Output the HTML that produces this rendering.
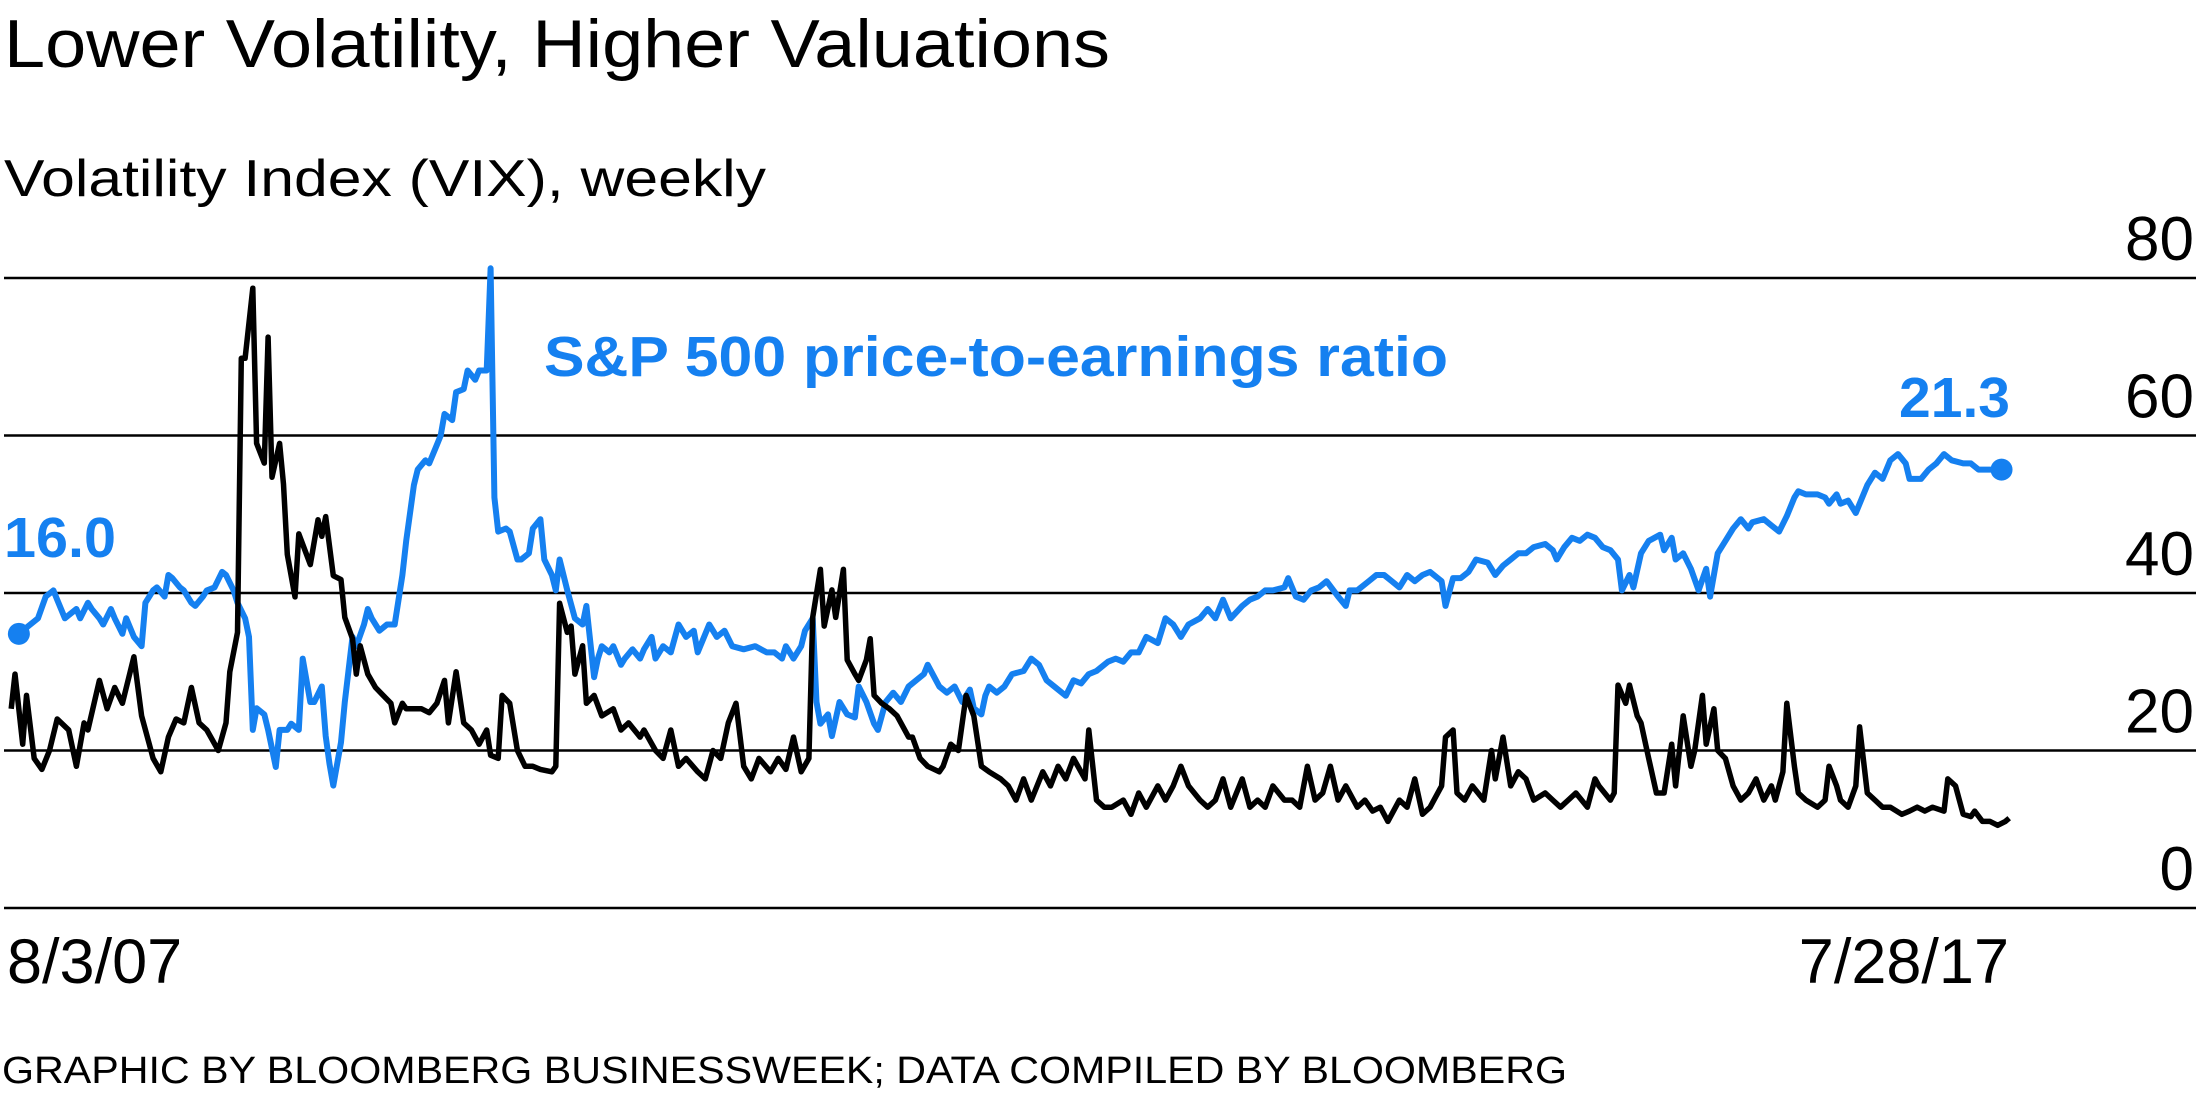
<!DOCTYPE html>
<html><head><meta charset="utf-8"><style>
html,body{margin:0;padding:0;background:#fff;}
svg{display:block;font-family:"Liberation Sans",sans-serif;}
</style></head><body>
<svg id="chart" width="2200" height="1100" viewBox="0 0 2200 1100">
<text x="4" y="67" font-size="68" fill="#000" textLength="1106" lengthAdjust="spacingAndGlyphs">Lower Volatility, Higher Valuations</text>
<text x="4" y="196" font-size="52" fill="#000" textLength="762" lengthAdjust="spacingAndGlyphs">Volatility Index (VIX), weekly</text>
<g id="grid"></g>
<g id="yticks"></g>
<g id="series"></g>
<text x="544" y="376" font-size="57" font-weight="bold" fill="#1580f0" textLength="904" lengthAdjust="spacingAndGlyphs">S&amp;P 500 price-to-earnings ratio</text>
<text x="4" y="557" font-size="57" font-weight="bold" fill="#1580f0" textLength="112" lengthAdjust="spacingAndGlyphs">16.0</text>
<text x="2010" y="417" font-size="57" font-weight="bold" fill="#1580f0" text-anchor="end">21.3</text>
<text x="7" y="983" font-size="63" fill="#000">8/3/07</text>
<text x="2009" y="983" font-size="63" fill="#000" text-anchor="end">7/28/17</text>
<text x="2" y="1083" font-size="38" fill="#000" textLength="1565" lengthAdjust="spacingAndGlyphs">GRAPHIC BY BLOOMBERG BUSINESSWEEK; DATA COMPILED BY BLOOMBERG</text>
</svg>
<script>
const yTicks = [0, 20, 40, 60, 80];
const yTickLabels = ["0", "20", "40", "60", "80"];
const vixWeeks = [0,1,3,4,6,8,10,12,15,17,19,20,23,25,27,29,32,34,36,37,39,41,43,45,47,49,51,54,56,57,59,60,61,63,64,66,67,68,70,71,72,74,75,77,78,80,81,82,84,86,87,89,90,91,93,95,97,99,100,102,103,105,107,109,111,113,114,116,118,120,122,124,125,127,128,130,132,134,136,138,141,142,143,145,146,147,149,150,152,154,157,159,161,164,165,168,170,172,174,176,179,181,183,185,187,189,191,193,195,198,200,202,204,206,208,209,211,212,214,215,217,218,220,221,223,224,225,227,229,231,234,235,237,239,242,243,245,247,249,251,253,255,258,260,262,264,266,269,271,273,275,277,280,281,283,285,287,290,292,294,296,299,301,303,305,307,310,312,314,316,318,321,323,325,327,329,332,334,336,338,340,342,344,346,348,351,353,355,357,359,362,364,366,368,370,373,374,376,377,379,381,384,386,387,389,391,393,395,397,400,402,404,406,408,411,413,414,417,418,419,421,422,424,425,427,429,431,433,434,436,438,439,441,442,444,445,447,449,451,453,455,457,459,460,462,463,465,466,468,471,473,474,476,477,479,481,482,484,486,488,490,493,495,497,499,501,504,505,507,509,511,512,514,516,518,520,521];
const vixValues = [25.3,29.7,20.8,27,19,17.6,20,24,22.6,18,23.5,22.6,28.9,25.3,28,26,31.9,24.4,20.8,19,17.3,21.7,24,23.5,28,23.5,22.6,20,23.5,30,35,69.8,69.8,78.7,59,56.5,72.5,54.7,59,53.8,44.9,39.5,47.5,44.9,43.6,49.3,47.2,49.7,42.2,41.7,36.9,34.2,29.7,33.3,29.7,28,27,26,23.5,26,25.3,25.3,25.3,24.8,26,28.9,23.5,30,23.5,22.6,20.8,22.6,19.4,19,27,26,20,18,18,17.6,17.3,18,38.7,35,35.8,29.7,33.3,26,27,24.4,25.3,22.6,23.5,21.7,22.6,20,19,22.6,18,19,17.3,16.4,20,19,23.5,26,18,16.4,19,17.3,19,17.6,21.7,17.3,19,36.9,43,35.8,40.4,36.9,43,31.5,29.7,28.9,31.5,34.2,27,26,25.3,24.4,21.7,21.7,19,18,17.3,18,20.8,20,27,24.4,18,17.3,16.4,15.5,13.7,16.4,13.7,17.3,15.5,18,16.4,19,16.4,22.6,13.7,12.8,12.8,13.7,11.9,14.6,12.8,15.5,13.7,15.5,18,15.5,13.7,12.8,13.7,16.4,12.8,16.4,12.8,13.7,12.8,15.5,13.7,13.7,12.8,18,13.7,14.6,18,13.7,15.5,12.8,13.7,12.3,12.8,11,13.7,12.8,16.4,11.9,12.8,15.5,21.7,22.6,14.6,13.7,15.5,13.7,20,16.4,21.7,15.5,17.3,16.4,13.7,14.6,13.7,12.8,13.7,14.6,12.8,16.4,15.5,13.7,14.6,28.3,26,28.3,24.4,23.5,19,14.6,14.6,20.8,15.5,24.4,18,20,27,20.8,25.3,20,19,15.5,13.7,14.6,16.4,13.7,15.5,13.7,17.3,26,18,14.6,13.7,12.8,13.7,18,15.5,13.7,12.8,15.5,23,14.6,13.7,12.8,12.8,11.9,12.3,12.8,12.3,12.8,12.3,16.4,15.5,11.9,11.6,12.3,11,11,10.5,11,11.4];
const peWeeks = [2,4,7,9,11,12,14,15,17,18,20,21,23,24,26,27,29,30,32,34,35,37,38,40,41,42,44,45,47,48,50,51,53,55,56,58,59,61,62,63,64,66,67,69,70,72,73,75,76,78,79,81,82,83,84,86,87,89,90,92,93,94,96,98,100,102,103,105,106,108,109,111,112,113,115,116,118,119,121,122,124,125,126,127,129,130,132,133,135,136,138,139,141,142,143,145,147,149,150,152,153,154,156,157,159,160,162,164,165,167,168,170,172,174,176,178,179,182,184,186,188,191,194,197,199,201,202,204,206,207,209,210,211,213,214,216,218,220,221,223,225,226,228,230,232,234,236,238,239,242,244,246,248,250,251,253,254,255,257,259,261,264,266,268,270,272,275,277,279,281,283,286,288,290,292,294,296,299,301,303,305,307,310,312,314,316,318,321,323,325,327,329,332,333,335,337,339,341,343,346,348,349,351,354,356,358,360,362,364,366,368,370,373,374,376,378,380,382,385,387,389,391,393,395,397,400,402,403,405,407,409,411,413,415,417,419,420,422,423,425,427,430,431,433,434,436,438,440,442,443,445,447,449,451,453,454,457,459,461,463,465,466,468,471,473,474,476,477,479,481,482,484,486,488,490,492,494,495,498,500,502,504,506,509,511,513,515,517,519];
const peValues = [16.0,16.2,16.5,17.2,17.4,17.1,16.5,16.6,16.8,16.5,17.0,16.8,16.5,16.3,16.8,16.5,16.0,16.5,15.9,15.6,17.0,17.4,17.5,17.2,17.9,17.8,17.5,17.4,17.0,16.9,17.2,17.4,17.5,18.0,17.9,17.4,17.0,16.5,15.9,12.9,13.6,13.4,12.9,11.7,12.9,12.9,13.1,12.9,15.2,13.8,13.8,14.3,12.7,11.8,11.1,12.5,13.8,15.9,15.6,16.3,16.8,16.5,16.1,16.3,16.3,17.9,19.0,20.8,21.3,21.6,21.5,22.1,22.4,23.1,22.9,23.8,23.9,24.5,24.2,24.5,24.5,27.8,20.4,19.3,19.4,19.3,18.4,18.4,18.6,19.4,19.7,18.4,17.9,17.4,18.4,17.4,16.5,16.3,16.9,14.6,15.2,15.6,15.4,15.6,15.0,15.2,15.5,15.2,15.5,15.9,15.2,15.6,15.4,16.3,15.9,16.1,15.4,16.3,15.9,16.1,15.6,15.5,15.6,15.4,15.4,15.2,15.6,15.2,15.6,16.1,16.5,13.8,13.1,13.4,12.7,13.8,13.4,13.3,14.3,13.8,13.1,12.9,13.8,14.1,13.8,14.3,14.5,14.7,15.0,14.3,14.1,14.3,13.8,14.2,13.6,13.4,14.0,14.3,14.1,14.3,14.7,14.8,15.2,15.0,14.5,14.3,14.0,14.5,14.4,14.7,14.8,15.1,15.2,15.1,15.4,15.4,15.9,15.7,16.5,16.3,15.9,16.3,16.5,16.8,16.5,17.1,16.5,16.9,17.1,17.2,17.4,17.4,17.5,17.8,17.2,17.1,17.4,17.5,17.7,17.2,16.9,17.4,17.4,17.7,17.9,17.9,17.7,17.5,17.9,17.7,17.9,18.0,17.7,16.9,17.8,17.8,18.0,18.4,18.3,17.9,18.2,18.4,18.6,18.6,18.8,18.9,18.7,18.4,18.8,19.1,19.0,19.2,19.1,18.8,18.7,18.4,17.4,17.9,17.5,18.6,19.0,19.2,18.7,19.1,18.4,18.6,18.1,17.4,18.1,17.2,18.6,19.0,19.4,19.7,19.4,19.6,19.7,19.5,19.3,19.8,20.4,20.6,20.5,20.5,20.4,20.2,20.5,20.2,20.3,19.9,20.2,20.8,21.2,21.0,21.6,21.8,21.5,21.0,21.0,21.3,21.5,21.8,21.6,21.5,21.5,21.3,21.3,21.3,21.3];

const NS = "http://www.w3.org/2000/svg";
const totalWeeks = 521;
function xScale(w){ return 11.2 + w * (1998 / totalWeeks); }
function yVix(v){ return 908 - v * (630 / 80); }
function yPe(p){ return 1129.5 - p * 30.98; }

const grid = document.getElementById('grid');
const yt = document.getElementById('yticks');
yTicks.forEach((t, i) => {
  const y = yVix(t);
  const ln = document.createElementNS(NS, 'line');
  ln.setAttribute('x1', 4); ln.setAttribute('x2', 2196);
  ln.setAttribute('y1', y); ln.setAttribute('y2', y);
  ln.setAttribute('stroke', '#000'); ln.setAttribute('stroke-width', '2.5');
  
  
  grid.appendChild(ln);
  const tx = document.createElementNS(NS, 'text');
  tx.setAttribute('x', 2194); tx.setAttribute('y', y - 18);
  tx.setAttribute('text-anchor', 'end'); tx.setAttribute('font-size', '62');
  tx.textContent = yTickLabels[i];
  
  
  yt.appendChild(tx);
});

const series = document.getElementById('series');
function pathFrom(ws, vs, yf){
  return ws.map((w, i) => (i ? 'L' : 'M') + xScale(w).toFixed(1) + ',' + yf(vs[i]).toFixed(1)).join(' ');
}
const peLine = document.createElementNS(NS, 'path');
peLine.setAttribute('d', pathFrom(peWeeks, peValues, yPe));
peLine.setAttribute('fill', 'none'); peLine.setAttribute('stroke', '#1580f0');
peLine.setAttribute('stroke-width', '6'); peLine.setAttribute('stroke-linejoin', 'round');


series.appendChild(peLine);

const vixLine = document.createElementNS(NS, 'path');
vixLine.setAttribute('d', pathFrom(vixWeeks, vixValues, yVix));
vixLine.setAttribute('fill', 'none'); vixLine.setAttribute('stroke', '#000');
vixLine.setAttribute('stroke-width', '5.5'); vixLine.setAttribute('stroke-linejoin', 'round');


series.appendChild(vixLine);

const last = peWeeks.length - 1;
[[0, 'pe-start-dot'], [last, 'pe-end-dot']].forEach(([i, nm]) => {
  const c = document.createElementNS(NS, 'circle');
  c.setAttribute('cx', xScale(peWeeks[i])); c.setAttribute('cy', yPe(peValues[i]));
  c.setAttribute('r', 11); c.setAttribute('fill', '#1580f0');
  
  
  series.appendChild(c);
});
</script>
</body></html>
